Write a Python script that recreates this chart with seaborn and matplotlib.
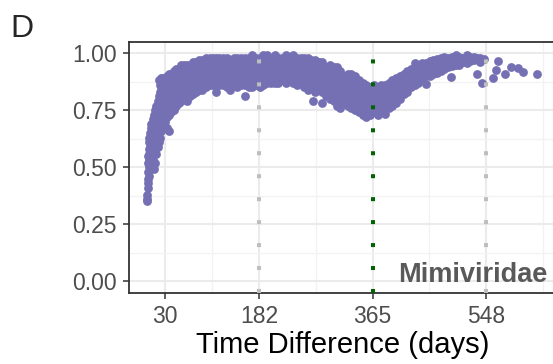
import matplotlib
matplotlib.use("Agg")
import matplotlib.pyplot as plt
import pandas as pd
import seaborn as sns

# ---- data (time difference in days -> similarity) ----
col_days = [1, 2, 3, 4, 5, 6, 7, 8, 10, 12, 14, 16, 18, 20, 22, 24, 26, 28, 30, 33,
            36, 40, 44, 48, 52, 56, 60, 65, 70, 75, 80, 85, 90, 96, 102, 108, 113,
            118, 124, 130, 135, 141, 147, 153, 159, 165, 171, 177, 183, 189, 195,
            201, 207, 213, 219, 225, 231, 237, 243, 249, 255, 261, 266, 269, 272,
            278, 284, 290, 296, 302, 308, 313, 319, 325, 331, 337, 343, 349, 355,
            361, 367, 373, 379, 385, 391, 397, 403, 409, 415, 421, 427, 433, 439,
            445, 451, 457, 463, 469, 475, 481, 487, 491, 493, 499, 505, 511, 517,
            523, 529, 534, 538, 541, 545, 560, 565, 568, 578, 589, 600, 608, 630]
col_values = [
    [0.35, 0.36, 0.38], [0.41, 0.45], [0.43, 0.48, 0.52, 0.55], [0.46, 0.50, 0.58, 0.61],
    [0.53, 0.56, 0.63], [0.51, 0.59, 0.65], [0.55, 0.62, 0.67], [0.57, 0.60, 0.64, 0.69],
    [0.53, 0.59, 0.63, 0.67, 0.71], [0.49, 0.56, 0.61, 0.65, 0.69, 0.73],
    [0.52, 0.58, 0.63, 0.67, 0.71, 0.75], [0.56, 0.60, 0.65, 0.69, 0.73, 0.77],
    [0.59, 0.62, 0.67, 0.71, 0.75, 0.79], [0.61, 0.65, 0.69, 0.73, 0.77, 0.81, 0.88],
    [0.63, 0.67, 0.71, 0.75, 0.79, 0.83, 0.86], [0.66, 0.70, 0.74, 0.78, 0.82, 0.85, 0.89],
    [0.68, 0.72, 0.76, 0.80, 0.84, 0.87, 0.89], [0.69, 0.73, 0.77, 0.81, 0.85, 0.88],
    [0.70, 0.74, 0.78, 0.82, 0.86, 0.89], [0.67, 0.72, 0.76, 0.80, 0.84, 0.87, 0.90],
    [0.66, 0.73, 0.77, 0.81, 0.85, 0.88, 0.91], [0.74, 0.78, 0.82, 0.86, 0.89, 0.91],
    [0.75, 0.79, 0.83, 0.86, 0.89, 0.92], [0.77, 0.80, 0.84, 0.87, 0.90, 0.93],
    [0.78, 0.82, 0.85, 0.88, 0.91, 0.93], [0.79, 0.83, 0.86, 0.89, 0.92, 0.95],
    [0.80, 0.84, 0.87, 0.90, 0.93, 0.95], [0.79, 0.82, 0.85, 0.88, 0.91, 0.94, 0.95],
    [0.81, 0.84, 0.87, 0.90, 0.93, 0.95], [0.82, 0.85, 0.88, 0.91, 0.94, 0.96],
    [0.83, 0.86, 0.89, 0.92, 0.94, 0.96], [0.84, 0.87, 0.90, 0.92, 0.95, 0.97],
    [0.84, 0.87, 0.90, 0.93, 0.95, 0.97], [0.85, 0.88, 0.91, 0.93, 0.96, 0.98],
    [0.86, 0.88, 0.91, 0.94, 0.96, 0.98], [0.86, 0.89, 0.92, 0.94, 0.97, 0.98],
    [0.83, 0.87, 0.90, 0.93, 0.95, 0.98], [0.86, 0.89, 0.92, 0.94, 0.96, 0.98],
    [0.86, 0.88, 0.91, 0.94, 0.96, 0.98], [0.85, 0.88, 0.91, 0.93, 0.96, 0.98],
    [0.84, 0.87, 0.90, 0.93, 0.95, 0.97], [0.86, 0.89, 0.92, 0.94, 0.96, 0.98],
    [0.85, 0.88, 0.91, 0.93, 0.96, 0.98], [0.86, 0.89, 0.91, 0.94, 0.96, 0.98],
    [0.81, 0.86, 0.88, 0.91, 0.94, 0.96, 0.98], [0.85, 0.88, 0.91, 0.93, 0.96, 0.98],
    [0.85, 0.87, 0.90, 0.93, 0.95, 0.98, 0.99], [0.86, 0.89, 0.91, 0.94, 0.96, 0.98],
    [0.85, 0.88, 0.91, 0.93, 0.96, 0.98], [0.86, 0.89, 0.92, 0.94, 0.97, 0.99],
    [0.87, 0.89, 0.92, 0.95, 0.97, 0.99], [0.87, 0.90, 0.92, 0.95, 0.97, 0.98],
    [0.87, 0.90, 0.93, 0.95, 0.97, 0.99], [0.87, 0.90, 0.93, 0.95, 0.98],
    [0.88, 0.91, 0.93, 0.96, 0.98], [0.87, 0.90, 0.93, 0.95, 0.98, 0.99],
    [0.88, 0.91, 0.94, 0.96, 0.98], [0.87, 0.89, 0.92, 0.95, 0.97, 0.99],
    [0.86, 0.89, 0.92, 0.94, 0.97, 0.98], [0.87, 0.90, 0.93, 0.95, 0.98],
    [0.85, 0.88, 0.91, 0.94, 0.96, 0.98], [0.84, 0.87, 0.90, 0.93, 0.96, 0.98],
    [0.86, 0.89, 0.92, 0.95, 0.97], [0.79], [0.83, 0.86, 0.89, 0.92, 0.95, 0.97],
    [0.84, 0.87, 0.90, 0.93, 0.96], [0.78, 0.83, 0.86, 0.89, 0.92, 0.96],
    [0.81, 0.85, 0.88, 0.91, 0.94], [0.80, 0.83, 0.86, 0.89, 0.92, 0.95],
    [0.79, 0.82, 0.85, 0.88, 0.91, 0.94], [0.77, 0.81, 0.84, 0.87, 0.90, 0.94],
    [0.76, 0.80, 0.83, 0.86, 0.89, 0.92], [0.78, 0.81, 0.84, 0.87, 0.90],
    [0.77, 0.80, 0.83, 0.86, 0.89, 0.91], [0.76, 0.79, 0.82, 0.85, 0.88, 0.91],
    [0.75, 0.78, 0.81, 0.84, 0.87, 0.90], [0.74, 0.77, 0.80, 0.83, 0.86, 0.88],
    [0.73, 0.76, 0.79, 0.82, 0.85, 0.87], [0.72, 0.75, 0.78, 0.81, 0.84, 0.86],
    [0.73, 0.76, 0.79, 0.82, 0.85], [0.74, 0.77, 0.80, 0.83, 0.86],
    [0.73, 0.76, 0.79, 0.82, 0.85], [0.74, 0.77, 0.80, 0.83, 0.86],
    [0.735, 0.77, 0.80, 0.83, 0.86], [0.76, 0.79, 0.82, 0.85, 0.87],
    [0.77, 0.80, 0.83, 0.86, 0.88], [0.78, 0.81, 0.84, 0.87, 0.89],
    [0.80, 0.83, 0.86, 0.89, 0.90], [0.82, 0.85, 0.88, 0.91],
    [0.83, 0.86, 0.89, 0.92], [0.85, 0.88, 0.91, 0.93],
    [0.86, 0.89, 0.92, 0.955], [0.87, 0.90, 0.93, 0.95],
    [0.88, 0.91, 0.935, 0.955], [0.866, 0.90, 0.93, 0.955], [0.90, 0.925, 0.95, 0.965],
    [0.91, 0.935, 0.955, 0.97], [0.915, 0.94, 0.96, 0.975], [0.92, 0.945, 0.965, 0.98],
    [0.93, 0.95, 0.97, 0.985], [0.94, 0.96, 0.98], [0.895], [0.945, 0.965, 0.985],
    [0.95, 0.97, 0.99], [0.95, 0.97, 0.985], [0.96, 0.98], [0.955, 0.975, 0.99],
    [0.965, 0.985], [0.97, 0.985], [0.91, 0.98], [0.96, 0.98], [0.87], [0.975],
    [0.893], [0.925], [0.965], [0.91], [0.94], [0.935], [0.918], [0.91],
]

x_ticks = [30, 182, 365, 548]
x_minor = [106, 273.5, 456.5, 639.5]
y_ticks = [0.0, 0.25, 0.5, 0.75, 1.0]
y_minor = [0.125, 0.375, 0.625, 0.875]
y_tick_labels = ["0.00", "0.25", "0.50", "0.75", "1.00"]
ref_days = [182, 365, 548]
ref_colors = ["#BEBEBE", "#006400", "#BEBEBE"]
family_name = "Mimiviridae"
panel_tag = "D"
x_title = "Time Difference (days)"

rows = [(d, v) for d, vals in zip(col_days, col_values) for v in vals]
df = pd.DataFrame(rows, columns=["days", "similarity"])

sns.set_theme(style="white")
plt.rcParams["font.family"] = ["Liberation Sans", "DejaVu Sans"]

W, H = 553, 364
fig = plt.figure(figsize=(W / 100, H / 100), dpi=100)
ax = fig.add_axes([129 / W, 71.3 / H, 427.6 / W, 251 / H])

sns.scatterplot(data=df, x="days", y="similarity", ax=ax, color="#7570B3",
                s=40, linewidth=0, alpha=1, zorder=3, legend=False)

for d, c in zip(ref_days, ref_colors):
    ax.axvline(d, color=c, lw=2.9, linestyle=(0, (1, 4.7)),
               dash_capstyle="butt", zorder=4)

ax.set_xlim(-28, 662)
ax.set_ylim(-0.05, 1.05)
ax.set_xticks(x_ticks)
ax.set_xticks(x_minor, minor=True)
ax.set_yticks(y_ticks)
ax.set_yticks(y_minor, minor=True)
ax.set_yticklabels(y_tick_labels)
ax.set_axisbelow(True)
ax.grid(which="major", color="#EBEBEB", lw=1.5)
ax.grid(which="minor", color="#F2F2F2", lw=0.9)

for s in ["top", "left", "bottom", "right"]:
    ax.spines[s].set_color("#333333")
    ax.spines[s].set_linewidth(1.3)
    ax.spines[s].set_visible(True)

ax.tick_params(which="major", length=4.3, width=1.1, color="#333333",
               labelsize=16.5, labelcolor="#4D4D4D", pad=4.5,
               bottom=True, left=True)
ax.tick_params(which="minor", length=0)

ax.set_ylabel("")
ax.set_xlabel(x_title, fontsize=21, color="black", labelpad=2)

ax.text(0.9776, 0.0426, family_name, transform=ax.transAxes, ha="right",
        va="baseline", fontsize=19.5, fontweight="bold", color="#595959", zorder=5)

fig.text(10 / W, (H - 37) / H, panel_tag, fontsize=23, va="baseline", ha="left")

fig.savefig("out.png", dpi=100)
